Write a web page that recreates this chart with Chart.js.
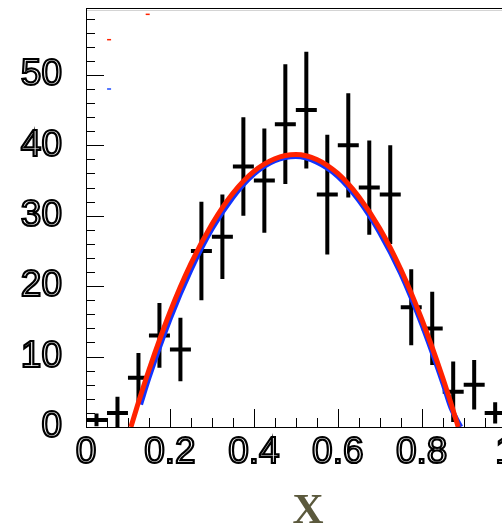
<!DOCTYPE html>
<html><head><meta charset="utf-8">
<script src="https://cdn.jsdelivr.net/npm/chart.js@4"></script>
<style>
html,body{margin:0;padding:0;overflow:hidden;background:#fff;width:502px;height:527px}
#wrap{position:absolute;left:0;top:0;width:560px;height:545px}
</style>
</head><body><div id="wrap"><canvas id="c"></canvas></div>
<script>
// ---- data ----
const binCenters = [0.025,0.075,0.125,0.175,0.225,0.275,0.325,0.375,0.425,0.475,0.525,0.575,0.625,0.675,0.725,0.775,0.825,0.875,0.925,0.975];
const binHalfWidth = 0.025;
const counts = [1,2,7,13,11,25,27,37,35,43,45,33,40,34,33,17,14,5,6,2];
const errors = [0.9,2.3,3.5,4.6,4.5,7,6,7,7.4,8.5,8.3,8.5,7.4,6.7,7,5.4,5.2,4.3,3.5,1.5];

const redX = [0.107,0.125,0.15,0.2,0.25,0.3,0.35,0.4,0.45,0.5,0.55,0.6,0.65,0.7,0.75,0.8,0.85,0.87,0.887];
const redY = [0,3.5,8.1,16.3,23.2,28.8,33.2,36.3,38.1,38.7,38.0,36.0,32.7,28.2,22.4,15.3,7.0,3.3,0];

const blueX = [0.13,0.15,0.2,0.25,0.3,0.35,0.4,0.45,0.5,0.55,0.6,0.65,0.7,0.75,0.8,0.85,0.87,0.893];
const blueY = [3.2,7.0,15.3,22.3,28.1,32.6,35.9,37.8,38.4,37.6,35.6,32.2,27.6,21.8,14.6,6.3,2.7,0];

const redMarkX = [0.147,0.055];
const redMarkY = [58.6,55.0];
const blueMarkX = [0.055];
const blueMarkY = [48.0];

const xTickValues = [0,0.2,0.4,0.6,0.8,1];
const xTickLabels = ['0','0.2','0.4','0.6','0.8','1'];
const xMinorStep = 0.05;
const yTickValues = [0,10,20,30,40,50];
const yTickLabels = ['0','10','20','30','40','50'];
const yMinorStep = 2;
const xRange = [0, 1.058];
const yRange = [0, 59.5];
const xTitle = 'X';

// ---- build datasets ----
const errorBarData = [];
binCenters.forEach((c, i) => {
  errorBarData.push({x: c, y: counts[i] - errors[i]}, {x: c, y: counts[i] + errors[i]}, {x: c, y: null});
  errorBarData.push({x: c - binHalfWidth, y: counts[i]}, {x: c + binHalfWidth, y: counts[i]}, {x: c, y: null});
});
const toPts = (xs, ys) => xs.map((v, i) => ({x: v, y: ys[i]}));

const near = (a, b) => Math.abs(a - b) < 1e-6;

const frameTicks = {
  id: 'frameTicks',
  beforeDatasetsDraw(chart) {
    const {ctx, chartArea: a, scales: {x, y}} = chart;
    ctx.save();
    ctx.strokeStyle = '#000';
    ctx.lineWidth = 1;
    ctx.beginPath();
    for (let v = xRange[0]; v <= 1 + 1e-9; v += xMinorStep) {
      const px = Math.round(x.getPixelForValue(v)) + 0.5;
      const len = xTickValues.some(t => near(t, v)) ? 18 : 9;
      ctx.moveTo(px, a.bottom);
      ctx.lineTo(px, a.bottom - len);
    }
    for (let v = yRange[0]; v < yRange[1]; v += yMinorStep) {
      const py = Math.round(y.getPixelForValue(v)) + 0.5;
      const len = yTickValues.some(t => near(t, v)) ? 18 : 9;
      ctx.moveTo(a.left, py);
      ctx.lineTo(a.left + len, py);
    }
    ctx.stroke();
    // top frame line
    ctx.beginPath();
    ctx.moveTo(a.left, Math.round(a.top) + 0.5);
    ctx.lineTo(a.right, Math.round(a.top) + 0.5);
    ctx.stroke();
    ctx.strokeStyle = '#d4d4d4';
    ctx.beginPath();
    ctx.moveTo(a.left + 1, Math.round(a.top) + 2.5);
    ctx.lineTo(a.right, Math.round(a.top) + 2.5);
    ctx.stroke();
    ctx.restore();
  }
};

const tickFont = {family: '"Liberation Sans", Arial, sans-serif', size: 37};

new Chart(document.getElementById('c'), {
  type: 'line',
  data: {
    datasets: [
      {label: 'fit red', data: toPts(redX, redY), borderColor: '#ff2200', borderWidth: 5,
       pointRadius: 0, cubicInterpolationMode: 'monotone', order: 0, clip: 0},
      {label: 'fit blue', data: toPts(blueX, blueY), borderColor: '#1133ff', borderWidth: 5,
       pointRadius: 0, cubicInterpolationMode: 'monotone', order: 1, clip: 0},
      {label: 'data', data: errorBarData, borderColor: '#000', borderWidth: 4, borderCapStyle: 'butt',
       pointRadius: 0, tension: 0, spanGaps: false, order: 2, clip: 0},
      {label: 'mark red', data: toPts(redMarkX, redMarkY), showLine: false, pointStyle: 'line',
       pointRadius: 2, borderColor: '#ff2200', pointBorderWidth: 1.5, order: 3},
      {label: 'mark blue', data: toPts(blueMarkX, blueMarkY), showLine: false, pointStyle: 'line',
       pointRadius: 2, borderColor: '#5577ff', pointBorderWidth: 2, order: 3}
    ]
  },
  options: {
    responsive: true,
    maintainAspectRatio: false,
    devicePixelRatio: 1,
    animation: false,
    events: [],
    layout: {padding: {top: 8, right: 30, left: 0, bottom: 0}},
    plugins: {legend: {display: false}, tooltip: {enabled: false}, title: {display: false}},
    scales: {
      x: {
        type: 'linear', min: xRange[0], max: xRange[1],
        grid: {display: false, drawTicks: false},
        border: {display: true, color: '#000', width: 1},
        afterBuildTicks: s => { s.ticks = xTickValues.map(v => ({value: v})); },
        afterFit: s => { s.height = 118; s.paddingLeft = 0; s.paddingRight = 0; },
        ticks: {
          callback: (v, i) => xTickLabels[i], font: tickFont, color: 'rgba(0,0,0,0)',
          textStrokeColor: '#000', textStrokeWidth: 2.2, padding: 4, maxRotation: 0, autoSkip: false
        },
        title: {display: true, text: xTitle, color: '#5b593d',
          font: {family: '"Liberation Serif", "Times New Roman", serif', size: 43, weight: 'bold', lineHeight: 1},
          padding: {top: 0, bottom: 12}}
      },
      y: {
        type: 'linear', min: yRange[0], max: yRange[1],
        grid: {display: false, drawTicks: false},
        border: {display: true, color: '#000', width: 1},
        afterBuildTicks: s => { s.ticks = yTickValues.map(v => ({value: v})); },
        afterFit: s => { s.width = 86; s.paddingTop = 0; s.paddingBottom = 0; },
        ticks: {
          callback: (v, i) => yTickLabels[i], font: tickFont, color: 'rgba(0,0,0,0)',
          textStrokeColor: '#000', textStrokeWidth: 2.2, padding: 24, autoSkip: false
        }
      }
    }
  },
  plugins: [frameTicks]
});
</script>
</body></html>
